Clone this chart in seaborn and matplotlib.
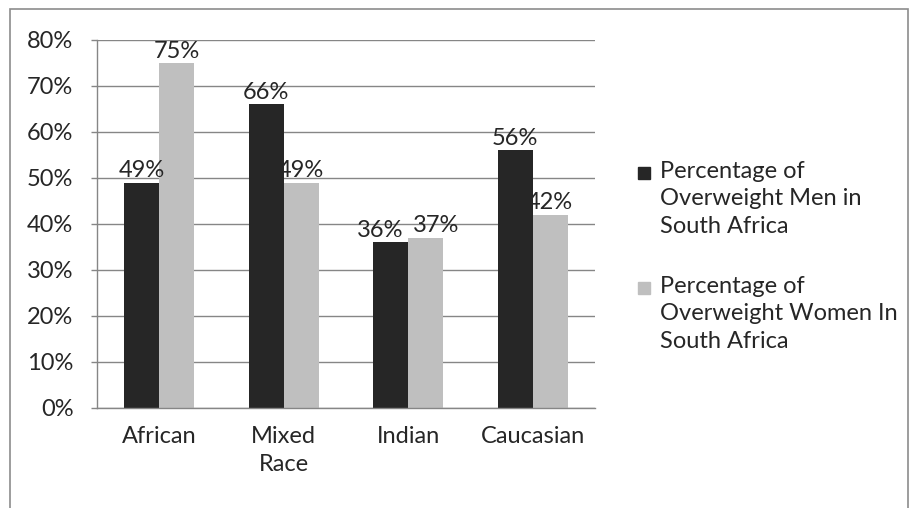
import matplotlib.pyplot as plt
import pandas as pd
import seaborn as sns
from matplotlib.patches import Rectangle

# chart data
groups = ["African", "Mixed\nRace", "Indian", "Caucasian"]
men = [49, 66, 36, 56]
women = [75, 49, 37, 42]
series_names = ["Percentage of\nOverweight Men in\nSouth Africa",
                "Percentage of\nOverweight Women In\nSouth Africa"]
y_ticks = [0, 10, 20, 30, 40, 50, 60, 70, 80]

df = pd.DataFrame({
    "group": groups * 2,
    "value": men + women,
    "series": [series_names[0]] * len(groups) + [series_names[1]] * len(groups),
})

sns.set_style("white")
plt.rcParams['font.family'] = ['Lato', 'DejaVu Sans']
fs = 17

fig = plt.figure(figsize=(9.18, 5.08), dpi=100)
fig.patches.append(Rectangle((10 / 918, -0.01), 898 / 918, (508 - 9) / 508 + 0.01,
                             transform=fig.transFigure, fill=False,
                             edgecolor="#8c8c8c", linewidth=1.2))
ax = fig.add_axes([97 / 918, 100 / 508, 498 / 918, 368 / 508])

palette = ["#262626", "#bfbfbf"]
sns.barplot(data=df, x="group", y="value", hue="series", palette=palette,
            width=0.56, gap=0, saturation=1, linewidth=0, ax=ax, legend=False)

labels = []
for cont in ax.containers:
    labels.append(ax.bar_label(cont, labels=[f"{v:.0f}%" for v in cont.datavalues],
                               padding=1, fontsize=fs))

ax.set_ylim(0, 80)
ax.set_xlim(-0.5, 3.5)
ax.set_yticks(y_ticks)
ax.set_yticklabels([f"{t}%" for t in y_ticks], fontsize=fs)
ax.yaxis.grid(True, color="#868686", linewidth=1)
ax.set_axisbelow(True)
ax.set_xlabel("")
ax.set_ylabel("")
ax.set_xticks(range(len(groups)))
ax.set_xticklabels(groups, fontsize=fs, linespacing=1.4, va="top")
ax.set_xticks([-0.5, 0.5, 1.5, 2.5, 3.5], minor=True)
ax.tick_params(axis="x", which="major", length=0, pad=13)
ax.tick_params(axis="x", which="minor", length=4.5, color="#868686", width=1)
ax.tick_params(axis="y", length=4, color="#868686", width=1, pad=13, left=True)
for side in ["top", "right"]:
    ax.spines[side].set_visible(False)
for side in ["left", "bottom"]:
    ax.spines[side].set_color("#868686")
    ax.spines[side].set_linewidth(1)

# push apart value labels that collide (as Excel does for Indian)
fig.canvas.draw()
renderer = fig.canvas.get_renderer()
for left, right in zip(labels[0], labels[1]):
    b0 = left.get_window_extent(renderer)
    b1 = right.get_window_extent(renderer)
    close = abs(b0.y0 - b1.y0) < b0.height
    overlap = b0.x1 - b1.x0
    if close and overlap > -8:
        shift = (overlap + 10) / 2 * 72 / fig.dpi
        dx0, dy0 = left.xyann
        dx1, dy1 = right.xyann
        left.xyann = (dx0 - shift, dy0)
        right.xyann = (dx1 + shift, dy1)

# legend: square key aligned with the first line of each label
legend_tops = [173, 288]
for name, color, yc in zip(series_names, palette, legend_tops):
    fig.patches.append(Rectangle((638 / 918, 1 - (yc + 6) / 508), 12 / 918, 12 / 508,
                                 transform=fig.transFigure, color=color))
    fig.text(660 / 918, 1 - (yc - 12) / 508, name, fontsize=fs, va="top",
             ha="left", linespacing=1.37)

fig.savefig("out.png", dpi=100)
